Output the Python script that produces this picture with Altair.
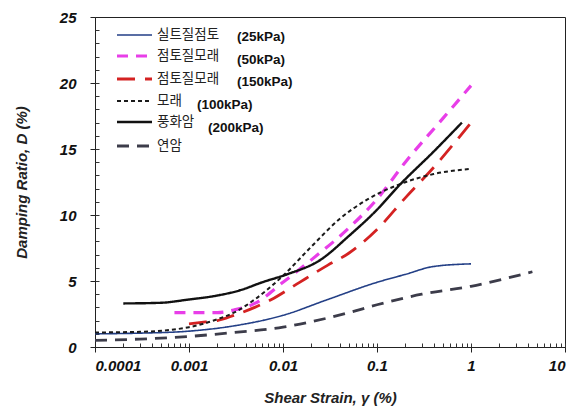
import altair as alt
import pandas as pd

# ---- data ----
names = ["실트질점토", "점토질모래", "점토질모래", "모래", "풍화암", "연암"]
pressures = ["(25kPa)", "(50kPa)", "(150kPa)", "(100kPa)", "(200kPa)", ""]

silty_clay_x = [0.0001, 0.0003, 0.001, 0.003, 0.01, 0.03, 0.1, 0.2, 0.4, 1.0]
silty_clay_y = [1.0, 1.05, 1.2, 1.6, 2.4, 3.6, 4.9, 5.5, 6.1, 6.3]

clayey_sand50_x = [0.0007, 0.002, 0.003, 0.005, 0.01, 0.02, 0.05, 0.1, 0.2, 0.5, 1.0]
clayey_sand50_y = [2.6, 2.6, 2.8, 3.3, 4.9, 6.6, 9.0, 11.2, 14.0, 17.3, 19.8]

clayey_sand150_x = [0.001, 0.0015, 0.002, 0.003, 0.005, 0.008, 0.015, 0.03, 0.05, 0.1, 0.2, 0.4, 1.0]
clayey_sand150_y = [1.75, 1.9, 2.0, 2.4, 3.0, 3.7, 4.9, 6.2, 7.1, 8.9, 11.3, 13.6, 17.0]

sand_x = [0.0001, 0.0003, 0.001, 0.002, 0.003, 0.005, 0.01, 0.02, 0.04, 0.08, 0.17, 0.4, 1.0]
sand_y = [1.1, 1.15, 1.5, 2.1, 2.6, 3.6, 5.4, 7.6, 9.7, 11.2, 12.3, 13.1, 13.5]

weathered_x = [0.0002, 0.0005, 0.001, 0.002, 0.0035, 0.006, 0.011, 0.025, 0.05, 0.1, 0.17, 0.4, 0.8]
weathered_y = [3.3, 3.35, 3.6, 3.9, 4.3, 4.9, 5.5, 6.6, 8.4, 10.4, 12.2, 14.8, 17.0]

soft_rock_x = [0.0001, 0.0003, 0.001, 0.003, 0.01, 0.03, 0.05, 0.1, 0.3, 1.0, 4.5]
soft_rock_y = [0.5, 0.6, 0.8, 1.1, 1.5, 2.2, 2.6, 3.2, 4.0, 4.6, 5.7]

x_ticks = [0.0001, 0.001, 0.01, 0.1, 1, 10]
y_ticks = [0, 5, 10, 15, 20, 25]

series_x = [silty_clay_x, clayey_sand50_x, clayey_sand150_x, sand_x, weathered_x, soft_rock_x]
series_y = [silty_clay_y, clayey_sand50_y, clayey_sand150_y, sand_y, weathered_y, soft_rock_y]

# ---- styles ----
colors = ["#233f86", "#e83ee8", "#d42222", "#1a1a1a", "#111111", "#3c3c4a"]
dashes = [[1, 0], [11, 8], [18, 10], [4, 3], [1, 0], [12, 8]]
widths = [1.6, 3.2, 2.8, 2.0, 2.4, 2.8]

W, H = 470, 330
label_font = "Liberation Sans"
kfont = "Noto Sans CJK KR"

minor_x = [m * 10 ** e for e in range(-4, 1) for m in range(2, 10)]
minor_y = list(range(1, 25))

xscale = alt.Scale(type="log", domain=[0.0001, 10])
yscale = alt.Scale(domain=[0, 25])

main_x_axis = alt.Axis(values=x_ticks, title="Shear Strain, γ (%)",
                       grid=False, tickSize=5, tickColor="#222", domainColor="#222",
                       labelFont=label_font, labelFontSize=15, labelFontStyle="italic",
                       labelFontWeight="bold", labelColor="#111", labelPadding=6,
                       titleFont=label_font, titleFontSize=15, titleFontStyle="italic",
                       titleFontWeight="bold", titleColor="#222", titlePadding=17,
                       labelExpr="datum.value < 0.0005 ? '0.0001' : datum.value < 0.005 ? '0.001' : format(datum.value, '~g')")
main_y_axis = alt.Axis(values=y_ticks, title="Damping Ratio, D (%)", grid=False,
                       tickSize=5, tickColor="#222", domainColor="#222",
                       labelFont=label_font, labelFontSize=15, labelFontStyle="italic",
                       labelFontWeight="bold", labelColor="#111", labelPadding=14,
                       titleFont=label_font, titleFontSize=15, titleFontStyle="italic",
                       titleFontWeight="bold", titleColor="#222", titlePadding=30)

layers = []
for i in range(len(names)):
    df = pd.DataFrame({"x": series_x[i], "y": series_y[i]})
    layers.append(
        alt.Chart(df).mark_line(color=colors[i], strokeDash=dashes[i], strokeWidth=widths[i],
                                interpolate="monotone", clip=True)
        .encode(x=alt.X("x:Q", scale=xscale, axis=main_x_axis if i == 0 else None),
                y=alt.Y("y:Q", scale=yscale, axis=main_y_axis if i == 0 else None))
    )

# minor ticks (inward) via extra axes
minor_df = pd.DataFrame({"x": [0.001], "y": [1]})
minor_layer = alt.Chart(minor_df).mark_point(opacity=0).encode(
    x=alt.X("x:Q", scale=xscale,
            axis=alt.Axis(values=minor_x + x_ticks, labels=False, title=None, domain=False, grid=False,
                          tickSize=4, offset=-4, tickColor="#333", orient="bottom")),
    y=alt.Y("y:Q", scale=yscale,
            axis=alt.Axis(values=minor_y, labels=False, title=None, domain=False, grid=False,
                          tickSize=4, offset=-4, tickColor="#333", orient="left")),
)

# manual legend
leg_line_y = [18, 39, 62, 84, 105, 129]
press_y = [20, 43, 65, 88, 111]
press_x = [142, 142, 142, 102, 113]
legend_layers = []
for i in range(len(names)):
    legend_layers.append(
        alt.Chart(minor_df).mark_rule(color=colors[i], strokeDash=dashes[i], strokeWidth=widths[i])
        .encode(x=alt.value(22), x2=alt.value(57), y=alt.value(leg_line_y[i]))
    )
    legend_layers.append(
        alt.Chart(minor_df).mark_text(text=names[i], align="left", baseline="middle",
                                      font=kfont, fontSize=13.5, color="#222")
        .encode(x=alt.value(62), y=alt.value(leg_line_y[i]))
    )
    if pressures[i]:
        legend_layers.append(
            alt.Chart(minor_df).mark_text(text=pressures[i], align="left", baseline="middle",
                                          font=label_font, fontSize=13.5, fontWeight="bold", color="#111")
            .encode(x=alt.value(press_x[i]), y=alt.value(press_y[i]))
        )

chart = alt.layer(*layers, minor_layer, *legend_layers).resolve_axis(
    x="independent", y="independent"
).properties(
    width=W, height=H,
    autosize=alt.AutoSizeParams(type="none"),
    padding={"left": 87, "top": 9, "right": 10, "bottom": 70},
).configure_view(stroke="#222", strokeWidth=1)

chart.save("out.html", embed_options={"renderer": "svg", "actions": False})
